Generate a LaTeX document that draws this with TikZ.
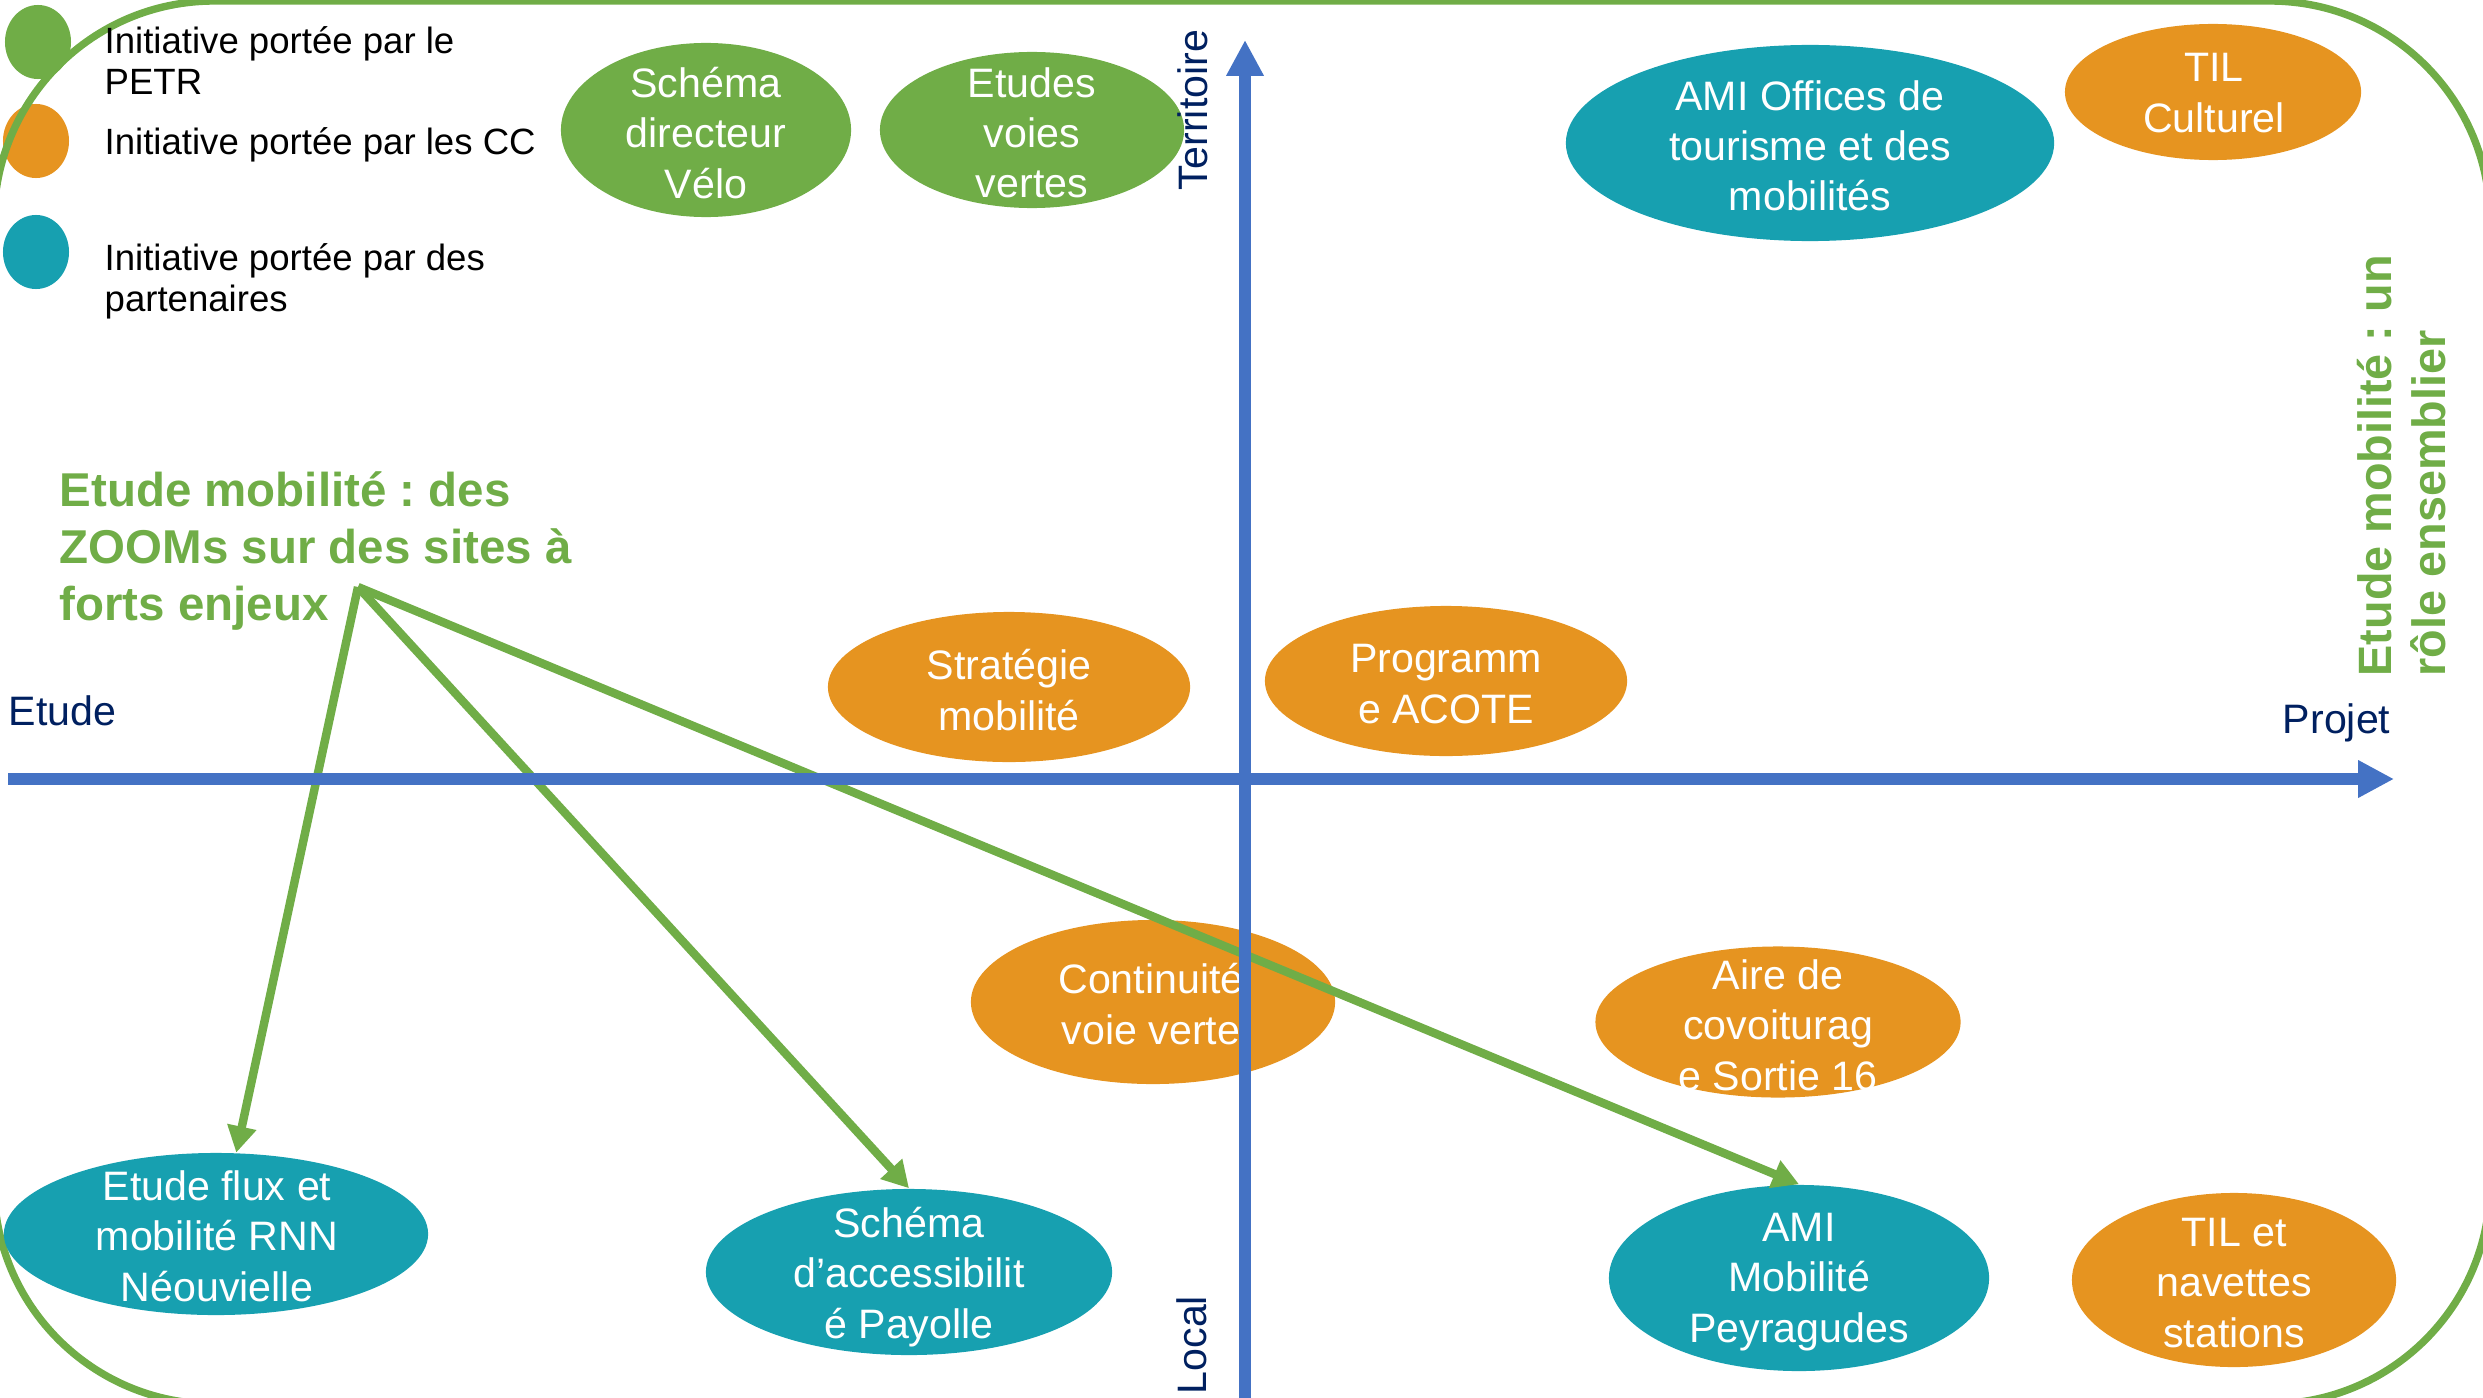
\documentclass[tikz,border=0pt]{standalone}
\usepackage{fontspec}
\setmainfont{Liberation Sans}
\usetikzlibrary{shapes.geometric,arrows.meta}
\definecolor{cgreen}{HTML}{70AD47}
\definecolor{corange}{HTML}{E69420}
\definecolor{cteal}{HTML}{17A0B0}
\definecolor{cblue}{HTML}{4472C4}
\definecolor{cnavy}{HTML}{002060}
\frenchspacing
\begin{document}
\begin{tikzpicture}[x=0.01cm,y=-0.01cm,
  ell/.style={ellipse,inner sep=0pt,draw=none},
  etxt/.style={text=white,align=center,inner sep=0pt,font=\fontsize{11.7pt}{14.3pt}\selectfont},
  legtxt/.style={text=black,align=left,inner sep=0pt,font=\fontsize{10.4pt}{11.7pt}\selectfont},
  axlbl/.style={text=cnavy,inner sep=0pt,font=\fontsize{11.7pt}{14pt}\selectfont},
  greentxt/.style={text=cgreen,align=left,inner sep=0pt,font=\fontsize{13.5pt}{16.2pt}\selectfont\bfseries},
  zoomarrow/.style={cgreen,line width=2.4pt,-{Triangle[length=7.5pt,width=8pt]}},
  axisarrow/.style={cblue,line width=3.4pt,-{Triangle[length=10.2pt,width=10pt]}},
  border/.style={cgreen,line width=2.1pt,rounded corners=2.2cm}]
\useasboundingbox (0,0) rectangle (2483,1397);
\clip (0,0) rectangle (2483,1397);

% legend dots
\node[ell,fill=cgreen,minimum width=0.66cm,minimum height=0.74cm] (dpetr) at (38,42) {};
\node[ell,fill=corange,minimum width=0.66cm,minimum height=0.74cm] (dcc) at (36,141) {};
\node[ell,fill=cteal,minimum width=0.66cm,minimum height=0.74cm] (dpart) at (36,252) {};

% frame
\draw[border] (-6,1) rectangle (2490,1404);

% ellipses
\node[ell,fill=cgreen,minimum width=2.90cm,minimum height=1.74cm] (velo) at (706,130) {};
\node[ell,fill=cgreen,minimum width=3.04cm,minimum height=1.56cm] (voies) at (1032,130) {};
\node[ell,fill=cteal,minimum width=4.88cm,minimum height=1.96cm] (ami1) at (1810,143) {};
\node[ell,fill=corange,minimum width=2.96cm,minimum height=1.36cm] (tilc) at (2213,92) {};
\node[ell,fill=corange,minimum width=3.62cm,minimum height=1.50cm] (strat) at (1009,687) {};
\node[ell,fill=corange,minimum width=3.62cm,minimum height=1.50cm] (acote) at (1446,681) {};
\node[ell,fill=corange,minimum width=3.64cm,minimum height=1.64cm] (cont) at (1153,1002) {};
\node[ell,fill=corange,minimum width=3.65cm,minimum height=1.51cm] (aire) at (1778,1022) {};
\node[ell,fill=cteal,minimum width=4.24cm,minimum height=1.62cm] (flux) at (216,1234) {};
\node[ell,fill=cteal,minimum width=4.06cm,minimum height=1.66cm] (payolle) at (909,1272) {};
\node[ell,fill=cteal,minimum width=3.80cm,minimum height=1.86cm] (ami2) at (1799,1278) {};
\node[ell,fill=corange,minimum width=3.24cm,minimum height=1.74cm] (tilnav) at (2234,1280) {};

% ellipse texts
\node[etxt] (velo-t) at (706,133) {Schéma\\directeur\\Vélo};
\node[etxt] (voies-t) at (1032,133) {Etudes\\voies\\vertes};
\node[etxt] (ami1-t) at (1810,146) {AMI Offices de\\tourisme et des\\mobilités};
\node[etxt] (tilc-t) at (2214,93) {TIL\\Culturel};
\node[etxt] (strat-t) at (1009,690) {Stratégie\\mobilité};
\node[etxt] (acote-t) at (1446,684) {Programm\\e ACOTE};
\node[etxt] (cont-t) at (1151,1004) {Continuité\\voie verte};
\node[etxt] (aire-t) at (1778,1025) {Aire de\\covoiturag\\e Sortie 16};
\node[etxt] (flux-t) at (217,1236) {Etude flux et\\mobilité RNN\\Néouvielle};
\node[etxt] (payolle-t) at (909,1277) {Schéma\\d’accessibilit\\é Payolle};
\node[etxt] (ami2-t) at (1799,1282) {AMI\\Mobilité\\Peyragudes};
\node[etxt] (tilnav-t) at (2234,1283) {TIL et\\navettes\\stations};

% zoom arrows
\coordinate (apex) at (358,587);
\draw[zoomarrow] (apex) -- (flux.76);
\draw[zoomarrow] (apex) -- (payolle.north);
\draw[zoomarrow] (apex) -- (ami2.north);

% axes
\coordinate (hstart) at (8,779);
\coordinate (hend) at (2394,779);
\coordinate (vstart) at (1245,1402);
\coordinate (vend) at (1245,40);
\draw[axisarrow] (hstart) -- (hend);
\draw[axisarrow] (vstart) -- (vend);

% axis labels
\node[axlbl,anchor=base west] (l-etude) at (8,725) {Etude};
\node[axlbl,anchor=base east] (l-projet) at (2391,733) {Projet};
\node[axlbl,rotate=90,anchor=base] (l-terr) at (1207,110) {Territoire};
\node[axlbl,rotate=90,anchor=base] (l-local) at (1206,1345) {Local};

% legend texts
\node[legtxt,anchor=north west] (t-petr) at (104,26) {Initiative portée par le\\PETR};
\node[legtxt,anchor=base west] (t-cc) at (104,154) {Initiative portée par les CC};
\node[legtxt,anchor=north west] (t-part) at (104,243) {Initiative portée par des\\partenaires};

% green texts
\node[greentxt,anchor=north west] (zoomtxt) at (59,471) {Etude mobilité : des\\ZOOMs sur des sites à\\forts enjeux};
\node[greentxt,rotate=90,anchor=south west,font=\fontsize{13.3pt}{15.6pt}\selectfont\bfseries] (roletxt) at (2447,677) {Etude mobilité : un\\rôle ensemblier};
\end{tikzpicture}
\end{document}
